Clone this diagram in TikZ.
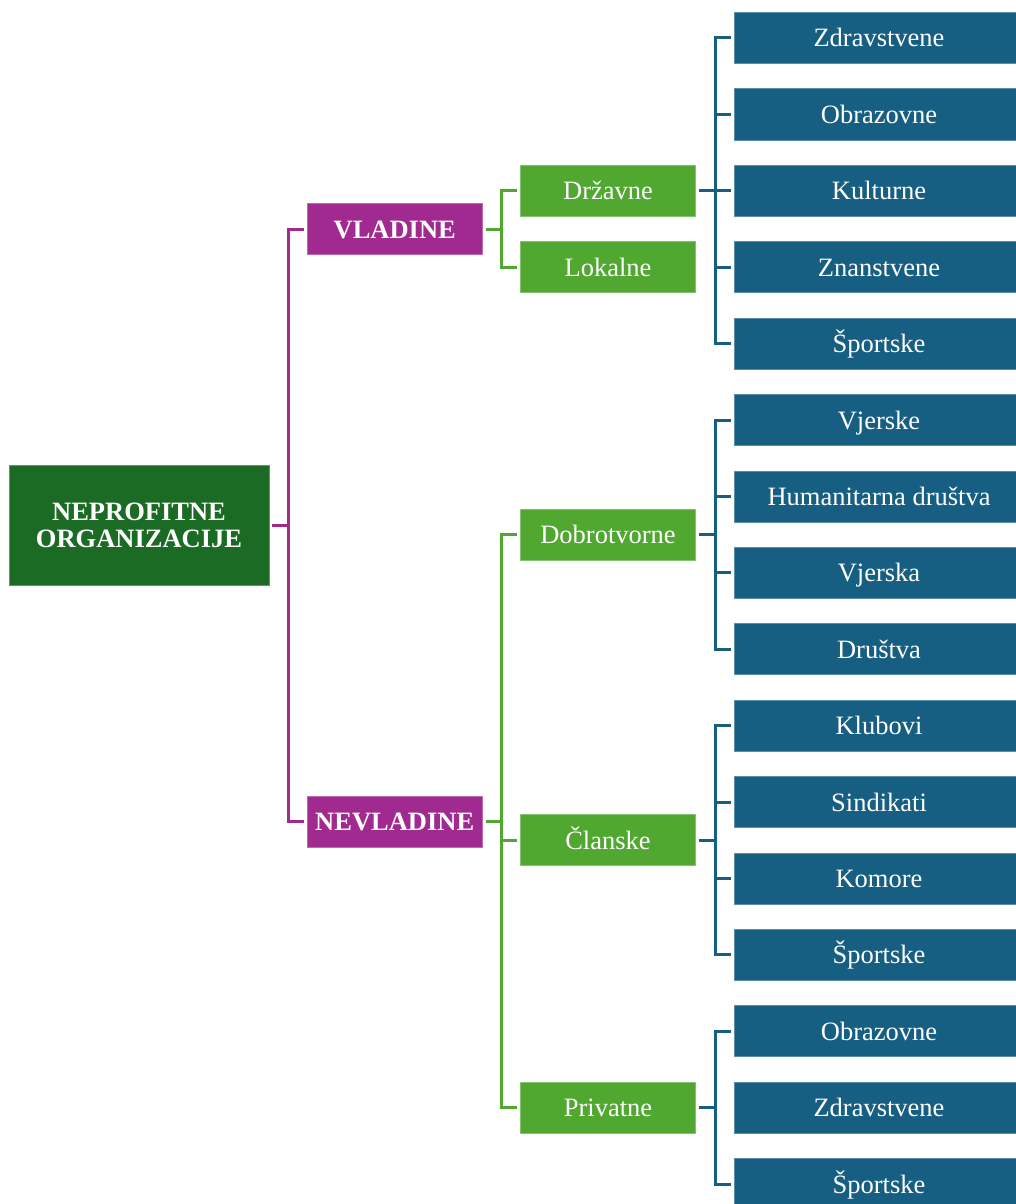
\documentclass[tikz,border=0pt]{standalone}
\usepackage{fontspec}
\setmainfont{Liberation Serif}
\definecolor{rootg}{HTML}{1B6B25}
\definecolor{purp}{HTML}{A02A8F}
\definecolor{grn}{HTML}{50A830}
\definecolor{blu}{HTML}{175F82}
\begin{document}
\begin{tikzpicture}[x=1pt,y=-1pt,
  box/.style={rectangle,inner sep=0pt,minimum height=51pt,text=white,
    font=\fontsize{26.5}{28}\selectfont,text height=21pt,text depth=3pt,line width=0.8pt},
  rootbox/.style={rectangle,inner sep=0pt,minimum width=260pt,minimum height=120pt,
    fill=rootg,draw=rootg!70!white,text=white,align=center,
    font=\fontsize{26.5}{27}\selectfont\bfseries,line width=0.8pt},
  pbox/.style={box,minimum width=175pt,fill=purp,draw=purp!70!white,font=\fontsize{26.5}{28}\selectfont\bfseries},
  gbox/.style={box,minimum width=175pt,fill=grn,draw=grn!70!white},
  bbox/.style={box,minimum width=290pt,fill=blu,draw=blu!70!white},
  pline/.style={draw=purp,line width=3pt,line join=miter},
  gline/.style={draw=grn,line width=3pt,line join=miter},
  bline/.style={draw=blu,line width=3pt,line join=miter}]
\useasboundingbox (0,0) rectangle (1016,1204);
\clip (0,0) rectangle (1016,1204);
% root
\node[rootbox] (root) at (139,525) {NEPROFITNE\\ORGANIZACIJE};
% purple
\node[pbox] (vl) at (394.75,229) {VLADINE};
\node[pbox] (nv) at (394.75,821.5) {NEVLADINE};
% green
\node[gbox] (dr) at (608,190.8) {Državne};
\node[gbox] (lo) at (608,267.2) {Lokalne};
\node[gbox] (dob) at (608,534.6) {Dobrotvorne};
\node[gbox] (cl) at (608,840.2) {Članske};
\node[gbox] (pri) at (608,1107.6) {Privatne};
% blue
\foreach \i/\t in {1/Zdravstvene,2/Obrazovne,3/Kulturne,4/Znanstvene,5/Športske,
  6/Vjerske,7/Humanitarna društva,8/Vjerska,9/Društva,
  10/Klubovi,11/Sindikati,12/Komore,13/Športske,
  14/Obrazovne,15/Zdravstvene,16/Športske}
  \node[bbox] (b\i) at (879,{38+76.4*(\i-1)}) {\t};
% root connectors
\coordinate (pv) at (288,525);
\draw[pline] ([xshift=2.5pt]root.east) -- (pv);
\draw[pline] ([xshift=-3pt]vl.west) -| (pv) |- ([xshift=-3pt]nv.west);
% green connectors
\draw[gline] ([xshift=3pt]vl.east) -- (501.5,229);
\draw[gline] ([xshift=-3pt]dr.west) -| (501.5,229) |- ([xshift=-3pt]lo.west);
\draw[gline] ([xshift=3pt]nv.east) -- (501.5,821.5);
\draw[gline] ([xshift=-3pt]dob.west) -| (501.5,821.5) |- ([xshift=-3pt]pri.west);
\draw[gline] ([xshift=-3pt]cl.west) -- (501.5,840.2);
% blue connectors
\draw[bline] ([xshift=3pt]dr.east) -- (715,190.8);
\draw[bline] ([xshift=-3pt]b1.west) -| (715,190.8) |- ([xshift=-3pt]b5.west);
\foreach \i in {2,3,4} \draw[bline] ([xshift=-3pt]b\i.west) -- (715,{38+76.4*(\i-1)});
\draw[bline] ([xshift=3pt]dob.east) -- (715,534.6);
\draw[bline] ([xshift=-3pt]b6.west) -| (715,534.6) |- ([xshift=-3pt]b9.west);
\foreach \i in {7,8} \draw[bline] ([xshift=-3pt]b\i.west) -- (715,{38+76.4*(\i-1)});
\draw[bline] ([xshift=3pt]cl.east) -- (715,840.2);
\draw[bline] ([xshift=-3pt]b10.west) -| (715,840.2) |- ([xshift=-3pt]b13.west);
\foreach \i in {11,12} \draw[bline] ([xshift=-3pt]b\i.west) -- (715,{38+76.4*(\i-1)});
\draw[bline] ([xshift=3pt]pri.east) -- (715,1107.6);
\draw[bline] ([xshift=-3pt]b14.west) -| (715,1107.6) |- ([xshift=-3pt]b16.west);
\end{tikzpicture}
\end{document}
